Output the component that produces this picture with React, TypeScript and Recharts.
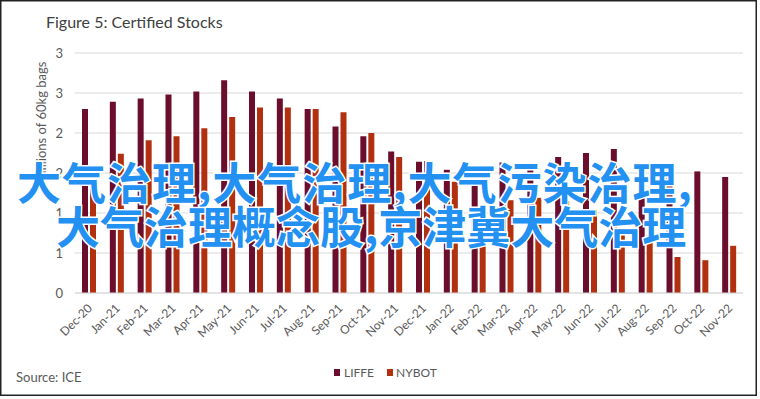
import React from "react";
import { BarChart, Bar, XAxis, YAxis, CartesianGrid } from "recharts";

const categories = [
  "Dec-20", "Jan-21", "Feb-21", "Mar-21", "Apr-21", "May-21", "Jun-21", "Jul-21",
  "Aug-21", "Sep-21", "Oct-21", "Nov-21", "Dec-21", "Jan-22", "Feb-22", "Mar-22",
  "Apr-22", "May-22", "Jun-22", "Jul-22", "Aug-22", "Sep-22", "Oct-22", "Nov-22",
];
const liffe = [
  2.30, 2.39, 2.43, 2.48, 2.52, 2.66, 2.52, 2.43, 2.30, 2.08, 1.96, 1.77,
  1.64, 1.54, 1.53, 1.63, 1.56, 1.70, 1.75, 1.80, 1.55, 1.58, 1.52, 1.45,
];
const nybot = [
  1.52, 1.74, 1.91, 1.96, 2.06, 2.20, 2.32, 2.32, 2.30, 2.26, 2.00, 1.70,
  1.65, 1.39, 1.07, 1.16, 1.19, 1.15, 1.04, 0.76, 0.72, 0.45, 0.41, 0.59,
];
const yTicks = [0, 0.5, 1, 1.5, 2, 2.5, 3];
const seriesNames = ["LIFFE", "NYBOT"];
const overlayLines = ["大气治理,大气治理,大气污染治理,", "大气治理概念股,京津冀大气治理"];

const data = categories.map((c, i) => ({ month: c, LIFFE: liffe[i], NYBOT: nybot[i] }));

const C_LIFFE = "#6B0E2B";
const C_NYBOT = "#B0300F";
const FONT = "Lato, 'Open Sans', sans-serif";

const XTick = (props: any) => {
  const { x, y, payload } = props;
  return (
    <text
      x={x + 4}
      y={y + 8}
      transform={`rotate(-45, ${x + 4}, ${y + 8})`}
      textAnchor="end"
      fontSize={12}
      fill="#595959"
      fontFamily={FONT}
    >
      {payload.value}
    </text>
  );
};

export default function App() {
  return (
    <div style={{ position: "fixed", left: 0, top: 0, width: 760, height: 399, background: "#fff", fontFamily: FONT }}>
      <BarChart
        width={760}
        height={399}
        data={data}
        margin={{ top: 53, right: 17, bottom: 56, left: 0 }}
        barSize={6}
        barGap={2}
      >
        <CartesianGrid vertical={false} stroke="#D9D9D9" strokeWidth={1} />
        <XAxis
          dataKey="month"
          height={50}
          tickLine={false}
          axisLine={{ stroke: "#D9D9D9" }}
          interval={0}
          tick={<XTick />}
        />
        <YAxis
          width={75}
          domain={[0, 3]}
          ticks={yTicks}
          tickFormatter={(v: number) => String(Math.round(v))}
          axisLine={false}
          tickLine={false}
          tickMargin={6}
          tick={{ fontSize: 13, fill: "#595959", fontFamily: FONT }}
        />
        <Bar dataKey="LIFFE" fill={C_LIFFE} isAnimationActive={false} />
        <Bar dataKey="NYBOT" fill={C_NYBOT} isAnimationActive={false} />
      </BarChart>

      <svg width={760} height={399} style={{ position: "absolute", left: 0, top: 0, pointerEvents: "none" }}>
        <rect x={0.75} y={0.75} width={755.5} height={394.5} fill="none" stroke="#222" strokeWidth={1.5} />
        <text x={46} y={28} fontSize={16} fill="#404040" fontFamily={FONT}>
          Figure 5: Certified Stocks
        </text>
        <text
          x={46}
          y={122}
          transform="rotate(-90, 46, 122)"
          textAnchor="middle"
          fontSize={13}
          fill="#595959"
          fontFamily={FONT}
        >
          Millions of 60kg bags
        </text>
        <text x={16} y={382} fontSize={13} fill="#595959" fontFamily={FONT}>
          Source: ICE
        </text>
        <rect x={334} y={369} width={6} height={7} fill={C_LIFFE} />
        <text x={344} y={377} fontSize={12} fill="#595959" fontFamily={FONT}>
          {seriesNames[0]}
        </text>
        <rect x={387} y={369} width={6} height={7} fill={C_NYBOT} />
        <text x={396} y={377} fontSize={12} fill="#595959" fontFamily={FONT}>
          {seriesNames[1]}
        </text>
        <text
          x={17}
          y={200}
          fontSize={44}
          letterSpacing={1}
          fontWeight={700}
          fill="#2291F2"
          stroke="#fff"
          strokeWidth={3}
          paintOrder="stroke"
          fontFamily="'Noto Sans CJK SC', sans-serif"
        >
          {overlayLines[0]}
        </text>
        <text
          x={56}
          y={244}
          fontSize={44}
          fontWeight={700}
          fill="#2291F2"
          stroke="#fff"
          strokeWidth={3}
          paintOrder="stroke"
          fontFamily="'Noto Sans CJK SC', sans-serif"
        >
          {overlayLines[1]}
        </text>
      </svg>
    </div>
  );
}
